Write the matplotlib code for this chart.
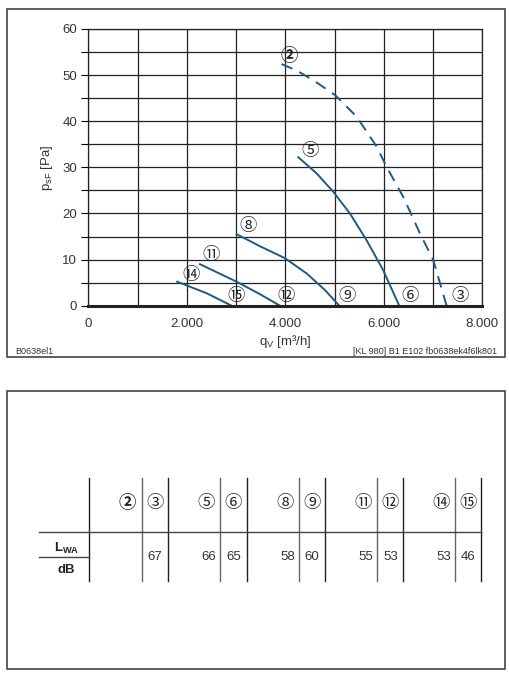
import numpy as np
import matplotlib
matplotlib.use('Agg')
import matplotlib.pyplot as plt
from matplotlib.patches import Rectangle
from matplotlib.ticker import FuncFormatter

plt.rcParams['font.family'] = ['Liberation Sans', 'DejaVu Sans']
CIRC = ['Noto Sans CJK JP', 'DejaVu Sans']
BLUE = '#1d5a85'

# curve data (qV in m3/h, psF in Pa)
q2 = [3925, 4230, 4568, 5008, 5448, 5854, 6057, 6395, 6733, 7004, 7275]
p2 = [52.4, 51.0, 48.9, 45.7, 41.0, 34.5, 30.1, 23.6, 15.7, 9.9, 0.0]
q5 = [4263, 4636, 4974, 5312, 5650, 5988, 6313]
p5 = [32.2, 28.7, 24.7, 20.0, 14.2, 7.7, 0.0]
q8 = [3011, 3485, 3993, 4433, 4804, 5096]
p8 = [15.5, 12.9, 10.3, 7.0, 3.4, 0.0]
q11 = [2267, 3011, 3485, 3891]
p11 = [9.0, 5.2, 2.5, 0.0]
q14 = [1806, 2403, 2910]
p14 = [5.2, 2.7, 0.0]

# label positions on the chart
lab_txt = ['②', '⑤', '⑧', '⑪', '⑭', '⑮', '⑫', '⑨', '⑥', '③']
lab_x = [4080, 4500, 3240, 2490, 2080, 3000, 4010, 5260, 6530, 7540]
lab_y = [54.2, 33.5, 17.3, 11.0, 6.6, 2.0, 2.0, 2.0, 2.0, 2.0]

# sound power table
tab_lab = ['②', '③', '⑤', '⑥', '⑧', '⑨', '⑪', '⑫', '⑭', '⑮']
tab_val = ['', '67', '66', '65', '58', '60', '55', '53', '53', '46']

fig = plt.figure(figsize=(5.1, 6.8), dpi=100)

# frames around both panels
fig.add_artist(Rectangle((7/510, 1-357/680), 498/510, 348/680, transform=fig.transFigure,
                         fill=False, ec='#444444', lw=1.2))
fig.add_artist(Rectangle((7/510, 1-669/680), 498/510, 278/680, transform=fig.transFigure,
                         fill=False, ec='#444444', lw=1.2))

ax = fig.add_axes([88.3/510, 1-305.7/680, 394/510, 276.7/680])
ax.set_xlim(0, 8000)
ax.set_ylim(0, 60)
ax.set_xticks(np.arange(0, 8001, 1000), minor=True)
ax.set_xticks(np.arange(0, 8001, 2000))
ax.set_yticks(np.arange(0, 61, 10))
ax.set_yticks(np.arange(0, 61, 5), minor=True)
ax.grid(True, which='both', color='#222222', lw=0.9)
ax.xaxis.set_major_formatter(FuncFormatter(lambda v, p: '{:,.0f}'.format(v).replace(',', '.')))
ax.tick_params(axis='x', which='both', length=0, labelsize=9.5, labelcolor='#333333', pad=9)
ax.tick_params(axis='y', which='both', length=5, width=0.8, labelsize=9.5, labelcolor='#333333', pad=3)
for s in ax.spines.values():
    s.set_color('#222222')
    s.set_linewidth(0.9)
ax.spines['bottom'].set_linewidth(2.2)
ax.set_axisbelow(True)

ax.plot(q2, p2, color=BLUE, lw=1.4, ls=(0, (6, 4)))
for q, p in [(q5, p5), (q8, p8), (q11, p11), (q14, p14)]:
    ax.plot(q, p, color=BLUE, lw=1.4)

for t, x, y in zip(lab_txt, lab_x, lab_y):
    ax.text(x, y, t, family=CIRC, fontsize=12.5, ha='center', va='center', color='#222222',
            fontweight='bold' if t == '②' else 'normal')

ax.set_xlabel('q$_\\mathregular{V}$ [m³/h]', fontsize=9.5, color='#333333', labelpad=2)
ax.set_ylabel('p$_\\mathregular{sF}$ [Pa]', fontsize=9.5, color='#333333', labelpad=5)

fig.text(15/510, 1-351/680, 'B0638el1', fontsize=6.5, color='#333333', va='center')
fig.text(497/510, 1-351/680, '[KL 980] B1 E102 fb0638ek4f6lk801', fontsize=6.5,
         color='#333333', va='center', ha='right')

# table drawn in pixel coordinates
tb = fig.add_axes([0, 0, 1, 1])
tb.set_xlim(0, 510)
tb.set_ylim(680, 0)
tb.axis('off')
vlines = [89.3, 141.7, 167.7, 220, 246.7, 298.7, 325, 377.3, 403.3, 455.3, 481.3]
for i, xv in enumerate(vlines):
    tb.plot([xv, xv], [478, 581], color='#222222' if i % 2 == 0 else '#666666', lw=1.0)
tb.plot([39.3, 481.3], [531.7, 531.7], color='#444444', lw=1.0)
tb.plot([39.3, 89.3], [556.7, 556.7], color='#444444', lw=1.0)
tb.text(66.7, 548.5, 'L$_\\mathregular{WA}$', fontsize=9.5, fontweight='bold', color='#222222',
        ha='center', va='center')
tb.text(66.7, 570, 'dB', fontsize=9.5, fontweight='bold', color='#222222', ha='center', va='center')

for k in range(5):
    xa, xb, xc = vlines[2*k], vlines[2*k+1], vlines[2*k+2]
    tb.text(xb - 14, 502.7, tab_lab[2*k], family=CIRC, fontsize=12.5, ha='center', va='center',
            color='#222222', fontweight='bold' if tab_lab[2*k] == '②' else 'normal')
    tb.text((xb + xc)/2, 502.7, tab_lab[2*k+1], family=CIRC, fontsize=12.5, ha='center',
            va='center', color='#222222')
    tb.text(xb - 4, 556.7, tab_val[2*k], fontsize=9.5, ha='right', va='center', color='#333333')
    tb.text((xb + xc)/2, 556.7, tab_val[2*k+1], fontsize=9.5, ha='center', va='center',
            color='#333333')

fig.savefig('out.png', dpi=100)
